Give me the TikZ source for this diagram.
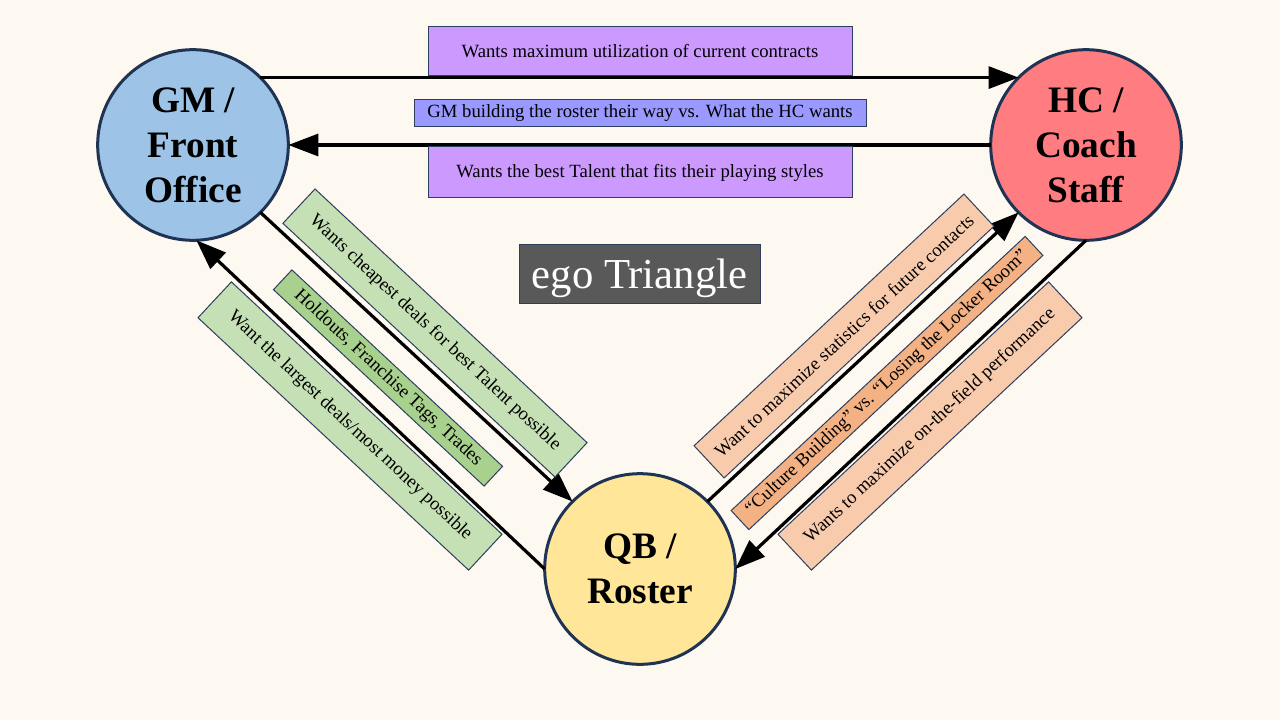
\documentclass[tikz,border=0pt]{standalone}
\usepackage{fontspec}
\setmainfont{Liberation Serif}
\usetikzlibrary{arrows.meta}
\definecolor{bg}{HTML}{FDF8F0}
\definecolor{navy}{HTML}{1F3354}
\definecolor{boxline}{HTML}{2E3E5E}
\definecolor{gmfill}{HTML}{9DC3E6}
\definecolor{hcfill}{HTML}{FF7C80}
\definecolor{qbfill}{HTML}{FFE699}
\definecolor{purp}{HTML}{CC99FF}
\definecolor{blu}{HTML}{9999FF}
\definecolor{grnL}{HTML}{C5E0B4}
\definecolor{grnD}{HTML}{A9D18E}
\definecolor{orgL}{HTML}{F8CBAD}
\definecolor{orgD}{HTML}{F4B183}
\definecolor{egofill}{HTML}{595959}
\begin{document}
\begin{tikzpicture}[x=0.75pt,y=-0.75pt,
  party/.style={circle,draw=navy,line width=2.25pt,minimum size=143pt,inner sep=0pt,outer sep=0pt,
    align=center,text depth=-4.5pt,font=\fontsize{28}{33.6}\selectfont\bfseries},
  lbl/.style={draw=boxline,line width=0.75pt,inner sep=0pt,outer sep=0pt,font=\fontsize{14}{16}\selectfont,text=black},
  conn/.style={line width=2.4pt,-{Triangle[length=22.5pt,width=16.5pt]}}]
\fill[bg] (0,0) rectangle (1280,720);
\useasboundingbox (0,0) rectangle (1280,720);
% parties
\node[party,fill=gmfill] (gm) at (193,145) {GM /\\Front\\Office};
\node[party,fill=hcfill] (hc) at (1086,145) {HC /\\Coach\\Staff};
\node[party,fill=qbfill] (qb) at (640,569) {QB /\\Roster};
% connectors
\draw[conn] (gm.45) -- (hc.135);
\draw[conn] (hc.180) -- (gm.0);
\draw[conn] (gm.-45) -- (qb.135);
\draw[conn] (qb.180) -- (gm.-88);
\draw[conn] (qb.45) -- (hc.-135);
\draw[conn] (hc.-90) -- (qb.0);
% horizontal labels
\node[lbl,fill=purp,minimum width=318pt,minimum height=36.75pt] (l1) at (640,51.5) {Wants maximum utilization of current contracts};
\node[lbl,fill=blu,minimum width=339pt,minimum height=20.25pt] (l2) at (640,113.5) {GM building the roster their way vs. What the HC wants};
\node[lbl,fill=purp,minimum width=318pt,minimum height=38.25pt] (l3) at (640,172.5) {Wants the best Talent that fits their playing styles};
% left labels
\node[lbl,fill=grnL,minimum width=279pt,minimum height=35.25pt,rotate=-43] (g1) at (435,333) {Wants cheapest deals for best Talent possible};
\node[lbl,fill=grnD,minimum width=216pt,minimum height=20.25pt,rotate=-43] (g2) at (388,378) {Holdouts, Franchise Tags, Trades};
\node[lbl,fill=grnL,minimum width=277.5pt,minimum height=36.75pt,rotate=-43] (g3) at (350,426) {Want the largest deals/most money possible};
% right labels
\node[lbl,fill=orgL,minimum width=276.75pt,minimum height=33pt,rotate=43] (o1) at (844,336) {Want to maximize statistics for future contacts};
\node[lbl,fill=orgD,minimum width=301.5pt,minimum height=19.5pt,rotate=43] (o2) at (887,383) {“Culture Building” vs. “Losing the Locker Room”};
\node[lbl,fill=orgL,minimum width=277.5pt,minimum height=36.75pt,rotate=43] (o3) at (930,426) {Wants to maximize on-the-field performance};
% title
\node[draw=boxline,line width=0.75pt,fill=egofill,text=white,minimum width=180.75pt,minimum height=44.25pt,inner sep=0pt,
  text depth=0pt,font=\fontsize{32}{38}\selectfont] (ego) at (639.5,273.5) {ego Triangle};
\end{tikzpicture}
\end{document}
